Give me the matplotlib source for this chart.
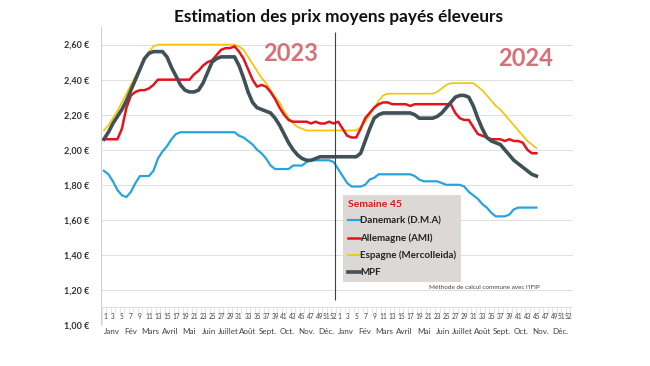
import matplotlib.pyplot as plt
import numpy as np

plt.rcParams['font.family'] = ['Lato', 'DejaVu Sans']

months = ["Janv", "Fév", "Mars", "Avril", "Mai", "Juin", "Juillet", "Août", "Sept.", "Oct.", "Nov.", "Déc."]
week_labels = [1, 3, 5, 7, 9, 11, 13, 15, 17, 19, 21, 23, 25, 27, 29, 31, 33, 35, 37, 39, 41, 43, 45, 47, 49, 51, 52]
# petit décalage pour que 51 / 52 / 1 ne se chevauchent pas
week_shift = {51: -0.5, 52: 0.05, 1: 0.3}

# 2023 : semaines 1..52
danemark_2023 = [1.88, 1.86, 1.82, 1.77, 1.74, 1.73, 1.76, 1.81, 1.85, 1.85, 1.85, 1.88, 1.95, 1.99, 2.02, 2.06,
                 2.09, 2.10, 2.10, 2.10, 2.10, 2.10, 2.10, 2.10, 2.10, 2.10, 2.10, 2.10, 2.10, 2.10, 2.08, 2.07,
                 2.05, 2.03, 2.00, 1.98, 1.95, 1.91, 1.89, 1.89, 1.89, 1.89, 1.91, 1.91, 1.91, 1.93, 1.94, 1.94,
                 1.94, 1.94, 1.94, 1.93]
allemagne_2023 = [2.06, 2.06, 2.06, 2.06, 2.12, 2.24, 2.31, 2.33, 2.34, 2.34, 2.35, 2.37, 2.40, 2.40, 2.40, 2.40,
                  2.40, 2.40, 2.40, 2.40, 2.43, 2.45, 2.48, 2.50, 2.51, 2.54, 2.57, 2.58, 2.58, 2.59, 2.56, 2.52,
                  2.46, 2.40, 2.36, 2.37, 2.36, 2.33, 2.29, 2.24, 2.20, 2.17, 2.16, 2.16, 2.16, 2.16, 2.15, 2.16,
                  2.15, 2.15, 2.16, 2.15]
espagne_2023 = [2.11, 2.14, 2.18, 2.22, 2.27, 2.32, 2.37, 2.42, 2.47, 2.52, 2.56, 2.59, 2.60, 2.60, 2.60, 2.60,
                2.60, 2.60, 2.60, 2.60, 2.60, 2.60, 2.60, 2.60, 2.60, 2.60, 2.60, 2.60, 2.60, 2.60, 2.59, 2.57,
                2.53, 2.49, 2.45, 2.41, 2.38, 2.34, 2.30, 2.27, 2.22, 2.18, 2.15, 2.13, 2.12, 2.11, 2.11, 2.11,
                2.11, 2.11, 2.11, 2.11]
mpf_2023 = [2.06, 2.10, 2.15, 2.19, 2.23, 2.28, 2.34, 2.40, 2.46, 2.52, 2.55, 2.56, 2.56, 2.56, 2.53, 2.47,
            2.42, 2.37, 2.34, 2.33, 2.33, 2.34, 2.38, 2.44, 2.50, 2.52, 2.53, 2.53, 2.53, 2.53, 2.48, 2.41,
            2.33, 2.27, 2.24, 2.23, 2.22, 2.21, 2.18, 2.14, 2.09, 2.04, 2.00, 1.97, 1.95, 1.94, 1.94, 1.95,
            1.96, 1.96, 1.96, 1.96]

# 2024 : semaines 1..45
danemark_2024 = [1.89, 1.85, 1.81, 1.79, 1.79, 1.79, 1.80, 1.83, 1.84, 1.86, 1.86, 1.86, 1.86, 1.86, 1.86, 1.86,
                 1.86, 1.85, 1.83, 1.82, 1.82, 1.82, 1.82, 1.81, 1.80, 1.80, 1.80, 1.80, 1.79, 1.76, 1.74, 1.72,
                 1.69, 1.67, 1.64, 1.62, 1.62, 1.62, 1.63, 1.66, 1.67, 1.67, 1.67, 1.67, 1.67]
allemagne_2024 = [2.16, 2.12, 2.08, 2.07, 2.07, 2.12, 2.18, 2.21, 2.24, 2.26, 2.27, 2.27, 2.26, 2.26, 2.26, 2.26,
                  2.25, 2.26, 2.26, 2.26, 2.26, 2.26, 2.26, 2.26, 2.26, 2.26, 2.21, 2.18, 2.17, 2.17, 2.13, 2.09,
                  2.08, 2.07, 2.06, 2.06, 2.06, 2.05, 2.06, 2.05, 2.05, 2.04, 2.00, 1.98, 1.98]
espagne_2024 = [2.11, 2.11, 2.11, 2.11, 2.11, 2.13, 2.16, 2.20, 2.24, 2.28, 2.31, 2.32, 2.32, 2.32, 2.32, 2.32,
                2.32, 2.32, 2.32, 2.32, 2.32, 2.32, 2.33, 2.35, 2.37, 2.38, 2.38, 2.38, 2.38, 2.38, 2.38, 2.36,
                2.34, 2.31, 2.28, 2.25, 2.23, 2.20, 2.17, 2.14, 2.11, 2.08, 2.05, 2.03, 2.01]
mpf_2024 = [1.96, 1.96, 1.96, 1.96, 1.96, 1.98, 2.05, 2.12, 2.18, 2.20, 2.21, 2.21, 2.21, 2.21, 2.21, 2.21,
            2.21, 2.20, 2.18, 2.18, 2.18, 2.18, 2.19, 2.21, 2.24, 2.27, 2.30, 2.31, 2.31, 2.30, 2.25, 2.18,
            2.12, 2.07, 2.05, 2.04, 2.03, 2.00, 1.97, 1.94, 1.92, 1.90, 1.88, 1.86, 1.85]

series = [
    ("Espagne (Mercolleida)", espagne_2023 + espagne_2024, "#f7c300", 1.2),
    ("Danemark (D.M.A)", danemark_2023 + danemark_2024, "#25a5dc", 1.6),
    ("Allemagne (AMI)", allemagne_2023 + allemagne_2024, "#e3141c", 1.8),
    ("MPF", mpf_2023 + mpf_2024, "#3f5156", 2.6),
]
legend_order = ["Danemark (D.M.A)", "Allemagne (AMI)", "Espagne (Mercolleida)", "MPF"]

fig = plt.figure(figsize=(6.5, 3.66), dpi=100)
ax = fig.add_axes([0.155, 0.112, 0.727, 0.814])

lines = {}
for name, vals, col, lw in series:
    x = np.arange(len(vals))
    lines[name], = ax.plot(x, vals, color=col, linewidth=lw, solid_joinstyle='round', label=name)

ax.set_xlim(-0.7, 104.2)
ax.set_ylim(1.0, 2.70)

# grille horizontale
for v in np.arange(1.2, 2.61, 0.2):
    ax.axhline(v, color="#d9d9d9", linewidth=0.6, zorder=0)
ax.axhline(1.10, color="#d9d9d9", linewidth=0.6, zorder=0)

# axe des semaines (2 années)
for yr in range(2):
    for k in range(52):
        ax.vlines(yr * 52 + k + 0.5, 1.07, 1.10, color="#d9d9d9", linewidth=0.5)
    for w in week_labels:
        ax.text(yr * 52 + w - 1 + week_shift.get(w, 0), 1.05, str(w), ha="center", va="center",
                fontsize=4.7, color="#404040")
ax.vlines(-0.5, 1.0, 1.10, color="#d9d9d9", linewidth=0.5)

month_pos = [yr * 52 + (m + 0.5) * 52 / 12 - 0.5 for yr in range(2) for m in range(12)]
ax.set_xticks(month_pos)
ax.set_xticklabels(months * 2, fontsize=5.8, color="#404040")
ax.tick_params(axis="x", length=0, pad=2)

yvals = np.arange(1.0, 2.61, 0.2)
ax.set_yticks(yvals)
ax.set_yticklabels([("%.2f €" % v).replace(".", ",") for v in yvals], fontsize=6.5, fontweight="bold", color="#333333")
ax.tick_params(axis="y", length=0, pad=8)

for s in ["top", "right", "bottom"]:
    ax.spines[s].set_visible(False)
ax.spines["left"].set_color("#d0d0d0")
ax.spines["left"].set_linewidth(0.7)

# séparation 2023 / 2024
ax.vlines(51.2, 1.14, 2.67, color="#404040", linewidth=0.8)

ax.text(41.5, 2.55, "2023", fontsize=17, fontweight="bold", color="#d96f77", ha="center", va="center")
ax.text(93.7, 2.52, "2024", fontsize=17, fontweight="bold", color="#d96f77", ha="center", va="center")

fig.text(0.52, 0.953, "Estimation des prix moyens payés éleveurs", ha="center", va="center",
         fontsize=12.4, fontweight="bold", color="#111111")

ax.text(0.93, 0.125, "Méthode de calcul commune avec l'IFIP", transform=ax.transAxes,
        ha="right", va="center", fontsize=4.6, color="#404040")

leg = ax.legend([lines[n] for n in legend_order], legend_order, loc="upper left",
                bbox_to_anchor=(343 / 650, 1 - 195 / 366), bbox_transform=fig.transFigure,
                borderaxespad=0, title="Semaine 45", fontsize=7.0, handlelength=1.2, handletextpad=0.1,
                labelspacing=0.8, frameon=True, fancybox=False, borderpad=0.5)
leg.get_frame().set_facecolor("#dcd8d5")
leg.get_frame().set_edgecolor("none")
leg.get_frame().set_alpha(1)
leg.get_title().set_color("#e3141c")
leg.get_title().set_fontweight("bold")
leg.get_title().set_fontsize(7.5)
leg._legend_box.align = "left"
for t in leg.get_texts():
    t.set_fontweight("bold")
    t.set_color("#222222")

plt.savefig("out.png", dpi=100)
